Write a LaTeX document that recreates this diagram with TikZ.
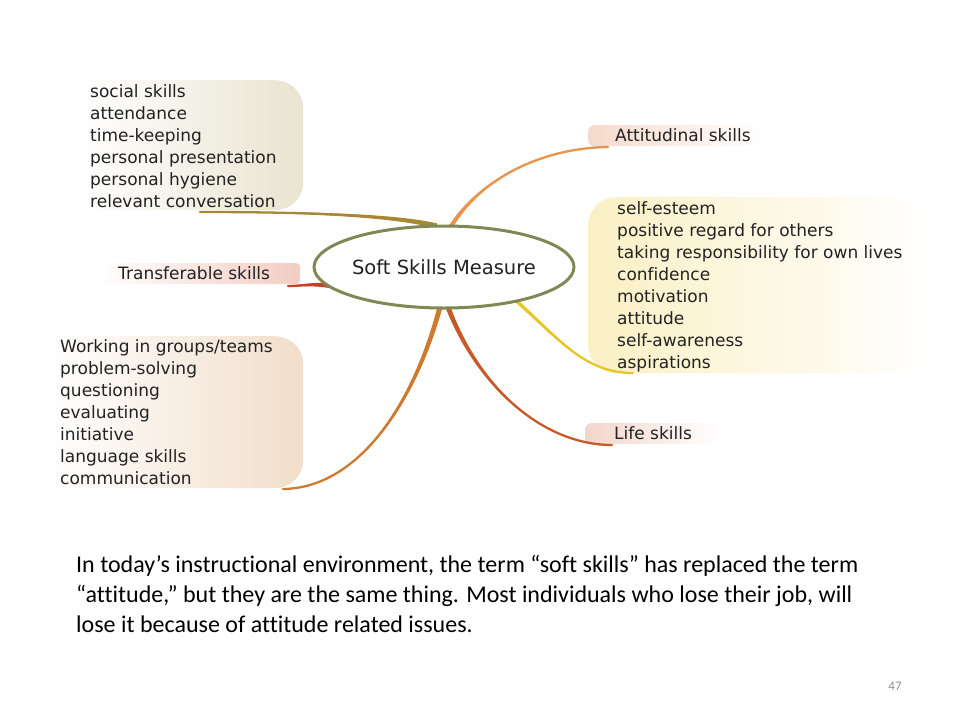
\documentclass[tikz,border=0pt]{standalone}
\usepackage{fontspec}
\usetikzlibrary{shapes.geometric,calc}
\setmainfont[Ligatures=NoCommon]{DejaVu Sans}
\newfontfamily\calib[Ligatures=NoCommon]{Carlito}
\definecolor{beigeA}{HTML}{E9E3D0}
\definecolor{pinkT}{HTML}{F2CDC2}
\definecolor{peachB}{HTML}{F1DECA}
\definecolor{peachA}{HTML}{F6DACA}
\definecolor{yellowR}{HTML}{FAF0C4}
\definecolor{peachL}{HTML}{F2D6CA}
\definecolor{ringc}{HTML}{7D8A55}
\definecolor{cTL}{HTML}{A88832}
\definecolor{cTR}{HTML}{C8402A}
\definecolor{cBL}{HTML}{D07A30}
\definecolor{cAT}{HTML}{E8944A}
\definecolor{cYE}{HTML}{E6C628}
\definecolor{cLS}{HTML}{C85A2A}
\definecolor{txt}{HTML}{222222}
% tapered connector: colour, thin end, control 1, control 2, thick end, half-width vector
\newcommand\tconn[6]{%
  \fill[#1] (#2) .. controls ($(#3)+0.35*(#6)$) and ($(#4)+0.7*(#6)$) .. ($(#5)+(#6)$)
     -- ($(#5)-(#6)$) .. controls ($(#4)-0.7*(#6)$) and ($(#3)-0.35*(#6)$) .. (#2) -- cycle;
  \draw[#1, line width=2.3pt, line cap=round] (#2) .. controls (#3) and (#4) .. (#5);}
\begin{document}
\begin{tikzpicture}[x=1pt,y=-1pt,
  box/.style={rounded corners=#1, inner sep=0pt, anchor=north west},
  list/.style={anchor=north west, inner sep=0pt, align=left, text=txt,
     font=\fontsize{17}{22}\selectfont},
  lbl/.style={anchor=west, inner sep=0pt, text=txt, font=\fontsize{17}{22}\selectfont},
  ring/.style={ellipse, minimum width=247pt, minimum height=82pt, inner sep=0pt},
  para/.style={anchor=base west, inner sep=0pt, font=\calib\fontsize{24}{30}\selectfont, text=black}]
\useasboundingbox (0,0) rectangle (960,720);
\fill[white] (0,0) rectangle (960,720);
% boxes
\node[box=28pt, left color=white, right color=beigeA, minimum width=228pt, minimum height=130pt] (bTL) at (75,80) {};
\node[box=4pt, left color=white, right color=pinkT, minimum width=205pt, minimum height=21pt] (bTR) at (95,263) {};
\node[box=28pt, left color=white, right color=peachB, minimum width=258pt, minimum height=152pt] (bBL) at (45,336) {};
\node[box=6pt, left color=peachA, right color=white, minimum width=175pt, minimum height=21pt] (bAT) at (588,125) {};
\node[box=28pt, left color=yellowR, right color=white, minimum width=345pt, minimum height=176pt] (bYE) at (588,197) {};
\node[box=6pt, left color=peachL, right color=white, minimum width=135pt, minimum height=21pt] (bLS) at (585,423) {};
% centre
\node[ring] (c) at (444,267) {};
\coordinate (eTL) at (200,212);
\coordinate (eTR) at (288,286);
\coordinate (eBL) at (283,489);
\coordinate (eAT) at (608,147);
\coordinate (eYE) at (633,373);
\coordinate (eLS) at (612,445);
\tconn{cTL}{eTL}{320,212}{395,216}{c.100}{0,2.6}
\tconn{cTR}{eTR}{302,286}{312,283}{c.190}{0,2.6}
\tconn{cBL}{eBL}{360,488}{415,400}{c.-96}{2.6,0}
\tconn{cAT}{eAT}{540,148}{480,180}{c.80}{2.6,0}
\tconn{cYE}{eYE}{585,373}{560,340}{c.-25}{2.6,0}
\tconn{cLS}{eLS}{545,445}{480,390}{c.-84}{2.6,0}
\node[ring, draw=ringc, line width=3pt, fill=white, font=\fontsize{19.5}{22}\selectfont, text=txt] (ct) at (c) {Soft Skills Measure};
% texts
\node[list] (tTL) at (90,84.5) {social skills\\attendance\\time-keeping\\personal presentation\\personal hygiene\\relevant conversation};
\node[lbl] (tTR) at (118,273) {Transferable skills};
\node[list] (tBL) at (60,339.5) {Working in groups/teams\\problem-solving\\questioning\\evaluating\\initiative\\language skills\\communication};
\node[lbl] (tAT) at (615,135) {Attitudinal skills};
\node[list] (tYE) at (617,201.5) {self-esteem\\positive regard for others\\taking responsibility for own lives\\confidence\\motivation\\attitude\\self-awareness\\aspirations};
\node[lbl] (tLS) at (614,433) {Life skills};
% paragraph
\node[para] (p1) at (76,572) {In today’s instructional environment, the term “soft skills” has replaced the term};
\node[para] (p2) at (76,602) {“attitude,” but they are the same thing. Most individuals who lose their job, will};
\node[para] (p3) at (76,632) {lose it because of attitude related issues.};
\node[font=\calib\fontsize{13}{15}\selectfont, text=gray!90, inner sep=0pt] (pg) at (895,686) {47};
\end{tikzpicture}
\end{document}
